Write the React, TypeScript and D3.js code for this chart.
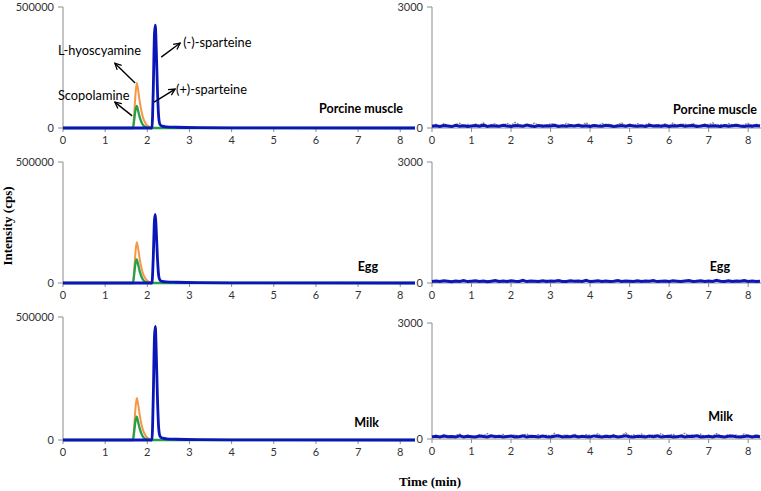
import React from 'react';
import * as d3 from 'd3';

// retention time grids (min)
const hyoTimes = [0, 1.66, 1.69, 1.72, 1.75, 1.78, 1.82, 1.86, 1.9, 1.95, 2.0, 2.08, 2.2, 8.35];
const spTimes = [0, 2.11, 2.14, 2.17, 2.19, 2.21, 2.24, 2.27, 2.3, 2.35, 2.45, 2.7, 3.2, 4.5, 8.35];

// spiked samples (cps)
const hyoPorcine = [0, 0, 60000, 140000, 186000, 160000, 110000, 70000, 42000, 22000, 10000, 3000, 0, 0];
const scoPorcine = [0, 0, 35000, 75000, 91000, 72000, 45000, 25000, 12000, 5000, 1500, 0, 0, 0];
const spPorcine = [0, 0, 150000, 390000, 425000, 340000, 160000, 45000, 15000, 8000, 5000, 3000, 1500, 500, 0];

const hyoEgg = [0, 0, 55000, 128000, 168000, 145000, 100000, 63000, 38000, 20000, 9000, 2500, 0, 0];
const scoEgg = [0, 0, 38000, 82000, 98000, 78000, 48000, 27000, 13000, 5500, 1500, 0, 0, 0];
const spEgg = [0, 0, 100000, 260000, 283000, 225000, 105000, 30000, 12000, 7000, 4500, 3000, 1500, 500, 0];

const hyoMilk = [0, 0, 57000, 130000, 171000, 148000, 102000, 65000, 39000, 20000, 9000, 2500, 0, 0];
const scoMilk = [0, 0, 36000, 78000, 95000, 75000, 46000, 26000, 12500, 5000, 1500, 0, 0, 0];
const spMilk = [0, 0, 165000, 420000, 462000, 370000, 175000, 48000, 16000, 8000, 5000, 3000, 1500, 500, 0];

// blank samples, noise read every 0.1 min
const greyPorcine = [60,95,40,110,70,30,85,120,55,90,45,100,65,130,50,80,105,35,75,115,60,140,90,45,100,70,125,55,85,40,110,95,65,30,120,80,50,105,70,135,60,90,45,115,75,100,55,85,130,40,95,65,110,50,80,120,35,90,70,105,60,125,45,85,100,55,115,70,40,95,80,130,60,90,50,110,75,100,45,85,120,65,95,70];
const bluePorcine = [45,55,40,60,50,35,65,45,55,40,50,60,45,70,40,55,50,45,65,50,40,60,55,45,75,50,40,60,45,55,50,65,40,55,45,60,50,70,45,55,40,60,50,45,65,55,40,50,60,45,70,50,45,55,40,65,50,55,45,60,40,55,50,70,45,55,60,40,50,65,45,55,50,40,60,45,55,65,50,40,55,45,60,50];
const greyEgg = [30,50,20,45,35,60,25,40,55,30,45,20,50,35,65,30,40,25,55,45,30,60,35,50,20,40,55,30,45,70,35,50,25,40,60,30,45,55,20,50,35,40,65,30,45,25,55,40,35,60,30,50,20,45,40,55,35,30,60,45,25,50,40,35,55,30,45,70,40,25,50,35,60,40,30,45,55,35,50,25,40,45,35,50];
const blueEgg = [40,50,35,55,45,30,50,40,60,35,45,55,40,50,30,45,60,40,50,35,55,45,40,65,35,50,45,40,55,35,50,45,60,40,35,55,45,50,40,65,35,45,55,40,50,35,45,60,40,50,45,35,55,40,50,45,60,35,45,50,40,55,45,35,50,60,40,45,55,35,50,40,65,45,40,55,35,50,45,60,40,50,35,45];
const greyMilk = [70,100,50,120,85,40,95,130,60,105,75,45,115,90,140,55,100,70,125,50,85,110,65,95,135,45,80,120,60,100,75,145,55,90,110,65,130,80,50,115,95,70,140,60,105,85,120,50,95,160,75,110,60,130,90,45,115,80,140,65,100,125,55,95,150,70,110,85,130,60,100,75,145,90,55,120,80,105,65,135,95,70,115,85];
const blueMilk = [55,70,50,75,60,65,50,80,55,70,60,50,75,65,55,85,60,70,50,65,75,55,60,80,50,70,65,55,75,60,50,70,85,55,65,60,75,50,70,60,55,80,65,50,70,60,75,55,65,85,60,50,70,65,55,75,60,80,50,65,70,55,60,75,50,70,65,85,55,60,70,50,75,65,55,70,80,60,50,65,75,55,70,60];

const samples = ['Porcine muscle', 'Egg', 'Milk'];
const xTicks = [0, 1, 2, 3, 4, 5, 6, 7, 8];
const leftMax = 500000;
const rightMax = 3000;

const ORANGE = '#F79646';
const GREEN = '#24A048';
const BLUE = '#0B16B8';
const GREY = '#8A8A8A';
const AXIS = '#8C8C8C';
const FONT = 'Lato, "Open Sans", sans-serif';

const spiked = [
  { hyo: hyoPorcine, sco: scoPorcine, sp: spPorcine },
  { hyo: hyoEgg, sco: scoEgg, sp: spEgg },
  { hyo: hyoMilk, sco: scoMilk, sp: spMilk },
];
const blanks = [
  { grey: greyPorcine, blue: bluePorcine },
  { grey: greyEgg, blue: blueEgg },
  { grey: greyMilk, blue: blueMilk },
];

// layout of the rows: [zero line, top tick]
const leftRows = [[128, 7], [283, 162], [440, 317]];
const rightRows = [[128, 7], [283, 162], [439, 323]];
const leftLabels = [{ x: 403, y: 113 }, { x: 378, y: 271 }, { x: 379, y: 427 }];
const rightLabels = [{ x: 757, y: 114 }, { x: 730, y: 271 }, { x: 733, y: 421 }];

const xLeft = d3.scaleLinear().domain([0, 8.35]).range([63, 415]);
const xRight = d3.scaleLinear().domain([0, 8.35]).range([432, 762]);

function zip(times: number[], values: number[]) {
  const n = Math.min(times.length, values.length);
  return d3.range(n).map((i) => [times[i], values[i]] as [number, number]);
}

function Axes({ x, y, max }: any) {
  const [x0] = x.range();
  const zero = y(0);
  const top = y(max);
  return (
    <g>
      <line x1={x0} x2={x.range()[1]} y1={zero} y2={zero} stroke={AXIS} />
      <line x1={x0} x2={x0} y1={zero} y2={top} stroke={AXIS} />
      {[0, max].map((v) => (
        <g key={v}>
          <line x1={x0 - 5} x2={x0} y1={y(v)} y2={y(v)} stroke={AXIS} />
          <text x={x0 - 9} y={y(v) + 4} textAnchor="end" fontSize={11} fill="#333" fontFamily={FONT}>
            {v}
          </text>
        </g>
      ))}
      {xTicks.map((t) => (
        <g key={t}>
          <line x1={x(t)} x2={x(t)} y1={zero} y2={zero + 4} stroke={AXIS} />
          <text x={x(t)} y={zero + 16} textAnchor="middle" fontSize={11} fill="#333" fontFamily={FONT}>
            {t}
          </text>
        </g>
      ))}
    </g>
  );
}

function Arrow({ x1, y1, x2, y2 }: any) {
  return <line x1={x1} y1={y1} x2={x2} y2={y2} stroke="#000" strokeWidth={1.4} markerEnd="url(#head)" />;
}

export default function App() {
  const noiseTimes = d3.range(0, 8.35, 0.1);

  return (
    <svg width={761} height={491} style={{ position: 'absolute', left: 0, top: 0, background: '#fff' }}>
      <defs>
        <marker id="head" viewBox="0 0 10 10" refX={9} refY={5} markerWidth={8} markerHeight={8}
          markerUnits="userSpaceOnUse" orient="auto">
          <path d="M1,1 L9,5 L1,9" fill="none" stroke="#000" strokeWidth={1.6} />
        </marker>
      </defs>

      {samples.map((name, i) => {
        const yL = d3.scaleLinear().domain([0, leftMax]).range(leftRows[i]);
        const yR = d3.scaleLinear().domain([0, rightMax]).range(rightRows[i]);
        const lineL = d3.line<[number, number]>().x((d) => xLeft(d[0])).y((d) => yL(d[1])).curve(d3.curveMonotoneX);
        const lineR = d3.line<[number, number]>().x((d) => xRight(d[0])).y((d) => yR(d[1]));
        const s = spiked[i];
        const b = blanks[i];
        return (
          <g key={name}>
            <Axes x={xLeft} y={yL} max={leftMax} />
            <Axes x={xRight} y={yR} max={rightMax} />

            <path d={lineL(zip(hyoTimes, s.hyo)) || ''} fill="none" stroke={ORANGE} strokeWidth={2} strokeLinejoin="round" />
            <path d={lineL(zip(hyoTimes, s.sco)) || ''} fill="none" stroke={GREEN} strokeWidth={2.3} strokeLinejoin="round" />
            <path d={lineL(zip(spTimes, s.sp)) || ''} fill="none" stroke={BLUE} strokeWidth={2.8} strokeLinejoin="round" />

            <path d={lineR(zip(noiseTimes, b.grey)) || ''} fill="none" stroke={GREY} strokeWidth={1.3} strokeDasharray="2 1" />
            <path d={lineR(zip(noiseTimes, b.blue)) || ''} fill="none" stroke={BLUE} strokeWidth={3} />

            <text x={leftLabels[i].x} y={leftLabels[i].y} textAnchor="end" fontSize={12.5} fontWeight="bold" fontFamily={FONT}>
              {name}
            </text>
            <text x={rightLabels[i].x} y={rightLabels[i].y} textAnchor="end" fontSize={12.5} fontWeight="bold" fontFamily={FONT}>
              {name}
            </text>

            {i === 0 && (
              <g fontFamily={FONT} fontSize={12.8} fill="#000">
                <Arrow x1={xLeft(1.71)} y1={yL(186000)} x2={xLeft(1.23)} y2={yL(268000)} />
                <text x={xLeft(-0.12)} y={yL(318000) + 4}>L-hyoscyamine</text>
                <Arrow x1={xLeft(1.64)} y1={yL(50000)} x2={xLeft(1.23)} y2={yL(107000)} />
                <text x={xLeft(-0.12)} y={yL(132000) + 4}>Scopolamine</text>
                <Arrow x1={xLeft(2.33)} y1={yL(293000)} x2={xLeft(2.78)} y2={yL(351000)} />
                <text x={xLeft(2.85)} y={yL(351000) + 4}>(-)-sparteine</text>
                <Arrow x1={xLeft(2.16)} y1={yL(107000)} x2={xLeft(2.66)} y2={yL(161000)} />
                <text x={xLeft(2.68)} y={yL(157000) + 4}>(+)-sparteine</text>
              </g>
            )}
          </g>
        );
      })}

      <text transform="translate(12,226) rotate(-90)" textAnchor="middle" fontSize={13} fontWeight="bold"
        fontFamily='"Liberation Serif", serif'>
        Intensity (cps)
      </text>
      <text x={430} y={486} textAnchor="middle" fontSize={13} fontWeight="bold" fontFamily='"Liberation Serif", serif'>
        Time (min)
      </text>
    </svg>
  );
}
